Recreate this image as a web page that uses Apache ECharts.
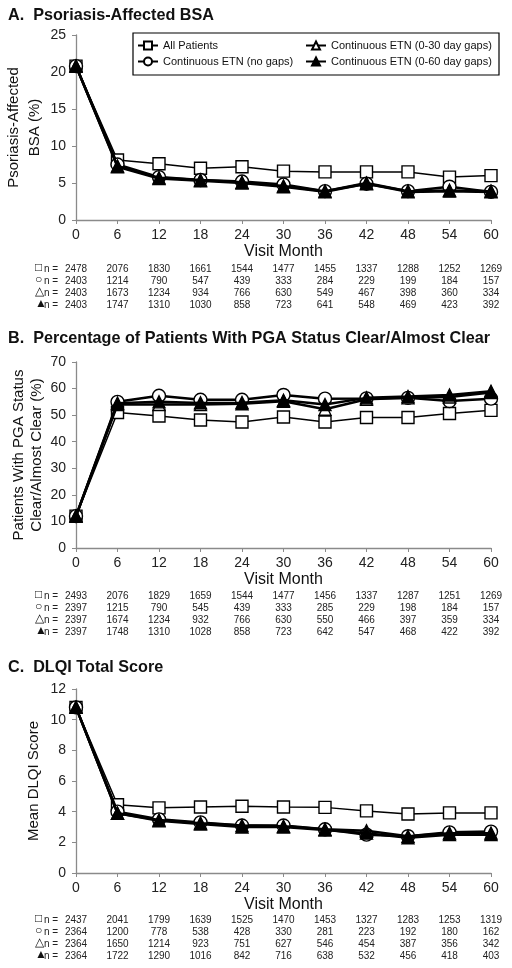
<!DOCTYPE html>
<html><head><meta charset="utf-8">
<script src="https://cdn.jsdelivr.net/npm/echarts@6/dist/echarts.min.js"></script>
<style>html,body{margin:0;padding:0;background:#fff}#c{width:512px;height:968px}</style>
</head><body><div id="c"></div>
<script>
const months = [0, 6, 12, 18, 24, 30, 36, 42, 48, 54, 60];
const seriesNames = ['All Patients', 'Continuous ETN (no gaps)', 'Continuous ETN (0-30 day gaps)', 'Continuous ETN (0-60 day gaps)'];
const rowSymbols = ['□', '○', '△', '▲'];

// Panel A: Psoriasis-affected BSA (%)
const bsaAll   = [20.8, 8.1, 7.6, 7.0, 7.2, 6.6, 6.5, 6.5, 6.5, 5.8, 6.0];
const bsaNoGap = [20.8, 7.5, 5.8, 5.4, 5.2, 4.8, 3.9, 4.9, 3.9, 4.5, 3.8];
const bsaGap30 = [20.8, 7.3, 5.7, 5.4, 5.1, 4.6, 3.9, 5.0, 3.9, 4.0, 3.9];
const bsaGap60 = [20.8, 7.2, 5.6, 5.3, 5.0, 4.5, 3.8, 4.9, 3.8, 3.9, 3.8];
const nA_all   = [2478, 2076, 1830, 1661, 1544, 1477, 1455, 1337, 1288, 1252, 1269];
const nA_noGap = [2403, 1214, 790, 547, 439, 333, 284, 229, 199, 184, 157];
const nA_gap30 = [2403, 1673, 1234, 934, 766, 630, 549, 467, 398, 360, 334];
const nA_gap60 = [2403, 1747, 1310, 1030, 858, 723, 641, 548, 469, 423, 392];

// Panel B: PGA clear/almost clear (%)
const pgaAll   = [12, 51, 49.7, 48.2, 47.4, 49.3, 47.4, 49.1, 49.1, 50.6, 51.8];
const pgaNoGap = [12, 55, 57.3, 55.8, 55.8, 57.6, 56.2, 56.3, 56.5, 55.3, 56.2];
const pgaGap30 = [12, 54, 54.0, 54.0, 54.3, 55.2, 52.2, 56.0, 56.5, 56.8, 58.5];
const pgaGap60 = [12, 54.5, 55.0, 54.6, 54.7, 55.6, 54.0, 56.5, 57.0, 57.6, 59.0];
const nB_all   = [2493, 2076, 1829, 1659, 1544, 1477, 1456, 1337, 1287, 1251, 1269];
const nB_noGap = [2397, 1215, 790, 545, 439, 333, 285, 229, 198, 184, 157];
const nB_gap30 = [2397, 1674, 1234, 932, 766, 630, 550, 466, 397, 359, 334];
const nB_gap60 = [2397, 1748, 1310, 1028, 858, 723, 642, 547, 468, 422, 392];

// Panel C: Mean DLQI score
const dlqiAll   = [10.8, 4.45, 4.25, 4.3, 4.35, 4.3, 4.28, 4.05, 3.85, 3.92, 3.92];
const dlqiNoGap = [10.8, 4.0, 3.5, 3.3, 3.1, 3.1, 2.85, 2.5, 2.4, 2.65, 2.7];
const dlqiGap30 = [10.8, 3.9, 3.45, 3.25, 3.1, 3.05, 2.85, 2.75, 2.4, 2.6, 2.6];
const dlqiGap60 = [10.8, 3.9, 3.4, 3.2, 3.0, 3.0, 2.8, 2.6, 2.3, 2.5, 2.5];
const nC_all   = [2437, 2041, 1799, 1639, 1525, 1470, 1453, 1327, 1283, 1253, 1319];
const nC_noGap = [2364, 1200, 778, 538, 428, 330, 281, 223, 192, 180, 162];
const nC_gap30 = [2364, 1650, 1214, 923, 751, 627, 546, 454, 387, 356, 342];
const nC_gap60 = [2364, 1722, 1290, 1016, 842, 716, 638, 532, 456, 418, 403];

const titles = ['A.  Psoriasis-Affected BSA', 'B.  Percentage of Patients With PGA Status Clear/Almost Clear', 'C.  DLQI Total Score'];
const yNames = ['Psoriasis-Affected\nBSA (%)', 'Patients With PGA Status\nClear/Almost Clear (%)', 'Mean DLQI Score'];
const yMax = [25, 70, 12];
const yInt = [5, 10, 2];
const panelValues = [
  [bsaAll, bsaNoGap, bsaGap30, bsaGap60],
  [pgaAll, pgaNoGap, pgaGap30, pgaGap60],
  [dlqiAll, dlqiNoGap, dlqiGap30, dlqiGap60]
];
const panelN = [
  [nA_all, nA_noGap, nA_gap30, nA_gap60],
  [nB_all, nB_noGap, nB_gap30, nB_gap60],
  [nC_all, nC_noGap, nC_gap30, nC_gap60]
];

const FONT = "'Liberation Sans', Arial, sans-serif";
const gridTops = [35, 362, 689];
const gridHeights = [185, 186, 184];
const titleY = [8, 331, 660];
const tableBase = [44, 43, 42];
const yNameGap = [31, 30, 33];
const yNameLH = [21, 18, 19];

const styles = [
  {symbol: 'rect', size: 12, fill: '#fff', lw: 1.5},
  {symbol: 'circle', size: 13, fill: '#fff', lw: 2.5},
  {symbol: 'triangle', size: 12, fill: '#fff', lw: 2.5},
  {symbol: 'triangle', size: 12, fill: '#000', lw: 2.5}
];

const grids = [], xAxes = [], yAxes = [], series = [], graphics = [];
for (let p = 0; p < 3; p++) {
  grids.push({left: 76, width: 415, top: gridTops[p], height: gridHeights[p], outerBoundsMode: 'none', containLabel: false});
  const mainX = xAxes.length;
  xAxes.push({
    type: 'value', gridIndex: p, min: 0, max: 60, interval: 6,
    name: 'Visit Month', nameLocation: 'middle', nameGap: 24, nameMoveOverlap: false,
    nameTextStyle: {fontFamily: FONT, fontSize: 16, color: '#111'},
    axisLine: {lineStyle: {color: '#8a8a8a', width: 1.3}},
    axisTick: {show: true, length: 4, lineStyle: {color: '#8a8a8a'}},
    axisLabel: {fontFamily: FONT, fontSize: 14, color: '#222', margin: 8},
    splitLine: {show: false}
  });
  yAxes.push({
    type: 'value', gridIndex: p, min: 0, max: yMax[p], interval: yInt[p],
    name: yNames[p], nameLocation: 'middle', nameGap: yNameGap[p], nameMoveOverlap: false,
    nameTextStyle: {fontFamily: FONT, fontSize: 15, color: '#111', lineHeight: yNameLH[p]},
    axisLine: {show: true, lineStyle: {color: '#8a8a8a', width: 1.3}},
    axisTick: {show: true, length: 4, lineStyle: {color: '#8a8a8a'}},
    axisLabel: {fontFamily: FONT, fontSize: 14, color: '#222', margin: 10},
    splitLine: {show: false}
  });
  for (let s = 0; s < 4; s++) {
    const st = styles[s];
    series.push({
      type: 'line', name: seriesNames[s], xAxisIndex: mainX, yAxisIndex: p,
      data: months.map((m, i) => [m, panelValues[p][s][i]]),
      symbol: st.symbol, symbolSize: st.size,
      lineStyle: {color: '#000', width: st.lw},
      itemStyle: {color: st.fill, borderColor: '#000', borderWidth: 1.4},
      emphasis: {disabled: true},
      z: 2 + s
    });
  }
  // n-table rows as category axes aligned with the month ticks
  for (let r = 0; r < 4; r++) {
    const rowTop = gridTops[p] + gridHeights[p] + tableBase[p] + 12 * r;
    xAxes.push({
      type: 'category', gridIndex: p, position: 'bottom', boundaryGap: false,
      data: panelN[p][r].map(String),
      offset: tableBase[p] + 12 * r,
      axisLine: {show: false}, axisTick: {show: false}, splitLine: {show: false},
      axisLabel: {fontFamily: FONT, fontSize: 10, color: '#222', margin: 0, interval: 0}
    });
    graphics.push({
      type: 'text', left: 35, top: rowTop - 2,
      style: {text: rowSymbols[r], font: '12px ' + FONT, fill: '#111'}
    });
    graphics.push({
      type: 'text', left: 44, top: rowTop,
      style: {text: 'n =', font: '10px ' + FONT, fill: '#222'}
    });
  }
  graphics.push({
    type: 'text', left: 8, top: titleY[p],
    style: {text: titles[p], font: 'bold 16.2px ' + FONT, fill: '#111'}
  });
}
graphics.push({
  type: 'rect', shape: {x: 133, y: 33, width: 366, height: 42},
  style: {fill: 'transparent', stroke: '#000', lineWidth: 1.2}, z: 1
});

const legendCommon = {
  orient: 'vertical', itemWidth: 20, itemHeight: 10, itemGap: 5, padding: 0,
  textStyle: {fontFamily: FONT, fontSize: 11, color: '#111'},
  selectedMode: false
};
const chart = echarts.init(document.getElementById('c'));
chart.setOption({
  animation: false,
  backgroundColor: '#fff',
  grid: grids, xAxis: xAxes, yAxis: yAxes, series: series,
  legend: [
    Object.assign({left: 137, top: 40, data: [seriesNames[0], seriesNames[1]]}, legendCommon),
    Object.assign({left: 305, top: 40, data: [seriesNames[2], seriesNames[3]]}, legendCommon)
  ],
  graphic: graphics
});
</script></body></html>
